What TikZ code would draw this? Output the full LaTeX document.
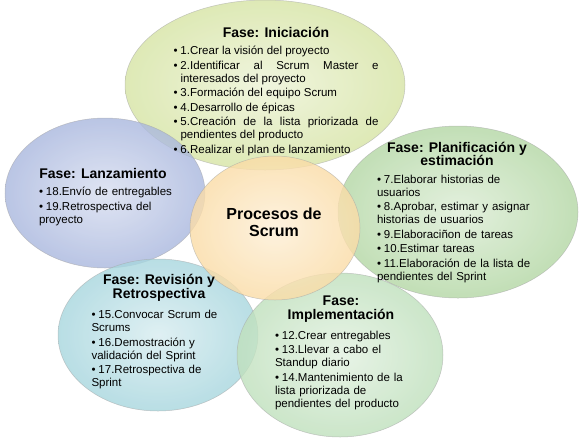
\documentclass[tikz,border=0pt]{standalone}
\usepackage{fontspec}
\setmainfont{Liberation Sans}
\usetikzlibrary{positioning}

\definecolor{cIni}{HTML}{D6E4A4}
\definecolor{cLan}{HTML}{A9B7DE}
\definecolor{cPla}{HTML}{B3D7A4}
\definecolor{cRev}{HTML}{A7D6DE}
\definecolor{cImp}{HTML}{BFE0BC}
\definecolor{cPro}{HTML}{FBDCA6}

% vineta con sangria colgante
\newcommand{\itm}[1]{\par\hangindent=7pt\hangafter=1\noindent
  \hbox to 7pt{\textbullet\hfil}#1\par\vspace{1.5pt}}

\begin{document}
\begin{tikzpicture}[x=1pt, y=-1pt, node distance=4pt,
    fase/.style={draw=gray!70, draw opacity=0.6, line width=0.5pt, fill opacity=0.8},
    titulo/.style={font=\fontsize{14}{13.5}\selectfont\bfseries, align=center, inner sep=0pt},
    lista/.style={font=\fontsize{11.5}{13}\selectfont, align=left, inner sep=0pt}]
  \useasboundingbox[fill=white] (0,0) rectangle (583,437);
  % elipses de las fases
  \path[fase, inner color=cIni!45, outer color=cIni] (265,85) ellipse [x radius=140pt, y radius=85pt];
  \path[fase, inner color=cLan!45, outer color=cLan] (105,193) ellipse [x radius=100pt, y radius=75pt];
  \path[fase, inner color=cPla!45, outer color=cPla] (458,212) ellipse [x radius=120pt, y radius=86pt];
  \path[fase, inner color=cRev!45, outer color=cRev] (158,335) ellipse [x radius=100pt, y radius=76pt];
  \path[fase, inner color=cImp!45, outer color=cImp] (340,355) ellipse [x radius=103pt, y radius=82pt];
  \path[fase, inner color=cPro!45, outer color=cPro] (275,228) ellipse [x radius=85pt, y radius=72pt];

  \node[font=\fontsize{16}{17}\selectfont\bfseries, align=center, inner sep=0pt]
    (proc) at (274,222) {Procesos de\\Scrum};

  % Iniciacion
  \node[titulo] (tIni) at (276,32) {Fase: Iniciación};
  \node[lista, align=justify, text width=205pt, below=of tIni] (lIni) {%
    \itm{1.Crear la visión del proyecto}
    \itm{2.Identificar al Scrum Master e\linebreak interesados del proyecto}
    \itm{3.Formación del equipo Scrum}
    \itm{4.Desarrollo de épicas}
    \itm{5.Creación de la lista priorizada de\linebreak pendientes del producto}
    \itm{6.Realizar el plan de lanzamiento}};

  % Planificacion
  \node[titulo] (tPla) at (457,154) {Fase: Planificación y\\estimación};
  \node[lista, text width=160pt, below=of tPla] (lPla) {%
    \itm{7.Elaborar historias de\\usuarios}
    \itm{8.Aprobar, estimar y asignar\\historias de usuarios}
    \itm{9.Elaboraciñon de tareas}
    \itm{10.Estimar tareas}
    \itm{11.Elaboración de la lista de\\pendientes del Sprint}};

  % Lanzamiento
  \node[titulo] (tLan) at (103,173) {Fase: Lanzamiento};
  \node[lista, text width=140pt, below=of tLan, xshift=6pt] (lLan) {%
    \itm{18.Envío de entregables}
    \itm{19.Retrospectiva del\\proyecto}};

  % Revision
  \node[titulo] (tRev) at (159,288) {Fase: Revisión y\\Retrospectiva};
  \node[lista, text width=135pt, below=of tRev] (lRev) {%
    \itm{15.Convocar Scrum de\\Scrums}
    \itm{16.Demostración y\\validación del Sprint}
    \itm{17.Retrospectiva de\\Sprint}};

  % Implementacion
  \node[titulo] (tImp) at (341,309) {Fase:\\Implementación};
  \node[lista, text width=138pt, below=of tImp, xshift=3pt] (lImp) {%
    \itm{12.Crear entregables}
    \itm{13.Llevar a cabo el\\Standup diario}
    \itm{14.Mantenimiento de la\\lista priorizada de\\pendientes del producto}};
\end{tikzpicture}
\end{document}
